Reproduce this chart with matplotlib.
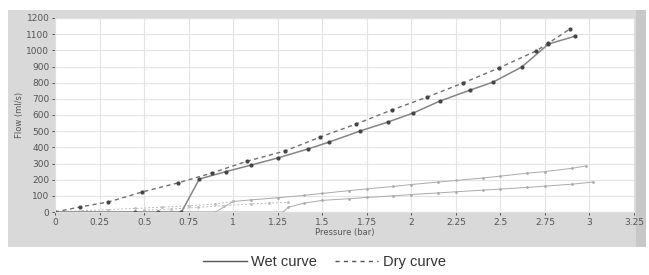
import numpy as np
import matplotlib.pyplot as plt
from matplotlib.lines import Line2D
from matplotlib.patches import Rectangle

# main pair of curves
wet_p = [0, 0.45, 0.58, 0.71, 0.81, 0.96, 1.10, 1.25, 1.42, 1.54, 1.71, 1.87, 2.01, 2.16, 2.33, 2.46, 2.62, 2.77, 2.92]
wet_q = [0, 0, 0, 0, 204, 250, 290, 334, 390, 433, 500, 557, 612, 686, 754, 804, 897, 1039, 1088]
dry_p = [0, 0.14, 0.30, 0.49, 0.69, 0.88, 1.08, 1.29, 1.49, 1.69, 1.89, 2.09, 2.29, 2.49, 2.70, 2.77, 2.89]
dry_q = [0, 31, 62, 124, 180, 241, 315, 377, 464, 544, 631, 711, 798, 890, 996, 1045, 1132]

# fainter second and third samples
wet2_p = [0, 0.9, 1.0, 1.1, 1.25, 1.4, 1.5, 1.65, 1.75, 1.9, 2.0, 2.15, 2.25, 2.4, 2.5, 2.65, 2.75, 2.9, 2.98]
wet2_q = [0, 0, 65, 75, 88, 103, 115, 132, 143, 158, 170, 185, 195, 210, 222, 240, 250, 270, 285]
dry2_p = [0, 0.15, 0.3, 0.45, 0.6, 0.75, 0.9, 1.0]
dry2_q = [0, 8, 15, 22, 30, 38, 50, 65]
wet3_p = [0, 1.28, 1.31, 1.4, 1.5, 1.65, 1.75, 1.9, 2.0, 2.15, 2.25, 2.4, 2.5, 2.65, 2.75, 2.9, 3.02]
wet3_q = [0, 0, 30, 55, 72, 82, 90, 100, 108, 118, 125, 135, 142, 152, 160, 172, 185]
dry3_p = [0.5, 0.65, 0.8, 0.95, 1.1, 1.2, 1.31]
dry3_q = [12, 18, 28, 40, 50, 55, 60]

xticks = [0, 0.25, 0.5, 0.75, 1, 1.25, 1.5, 1.75, 2, 2.25, 2.5, 2.75, 3, 3.25]
xlabels = ['0', '0.25', '0.5', '0.75', '1', '1.25', '1.5', '1.75', '2', '2.25', '2.5', '2.75', '3', '3.25']
yticks = list(range(0, 1201, 100))

fig = plt.figure(figsize=(6.49, 2.75), dpi=100)
fig.patches.append(Rectangle((8/649, 1-247/275), 638/649, 237/275, transform=fig.transFigure,
                             facecolor='#d9d9d9', edgecolor='none', zorder=-10))
fig.patches.append(Rectangle((636/649, 1-247/275), 10/649, 237/275, transform=fig.transFigure,
                             facecolor='#c8c8c8', edgecolor='none', zorder=-9))

ax = fig.add_axes([55/649, 1-212/275, 579/649, 194/275])
ax.set_facecolor('white')

light = '#ababab'
ax.plot(wet2_p, wet2_q, '-', color=light, lw=0.7, marker='.', ms=2)
ax.plot(dry2_p, dry2_q, '--', color='#bbbbbb', lw=0.7, marker='.', ms=2, dashes=(2, 2))
ax.plot(wet3_p, wet3_q, '-', color=light, lw=0.7, marker='.', ms=2)
ax.plot(dry3_p, dry3_q, '--', color='#bbbbbb', lw=0.7, marker='.', ms=2, dashes=(2, 2))

ax.plot(wet_p, wet_q, '-', color='#858585', lw=1.1, marker='o', ms=2, mfc='#444444', mec='#444444')
ax.plot(dry_p, dry_q, '--', color='#707070', lw=1.0, marker='o', ms=2, mfc='#444444', mec='#444444',
        dashes=(3, 2.5))

ax.set_xlim(0, 3.25)
ax.set_ylim(0, 1200)
ax.set_xticks(xticks)
ax.set_xticklabels(xlabels)
ax.set_yticks(yticks)
ax.tick_params(labelsize=6.5, colors='#555555', length=2.5, width=0.7, pad=1.5)
ax.grid(color='#e4e4e4', lw=0.8)
ax.set_axisbelow(True)
for s in ax.spines.values():
    s.set_color('#e0e0e0')
    s.set_linewidth(0.8)
ax.set_xlabel('Pressure (bar)', fontsize=6, color='#555555', labelpad=1)
ax.set_ylabel('Flow (ml/s)', fontsize=6, color='#555555', labelpad=2)

handles = [Line2D([], [], color='#555555', lw=1.0),
           Line2D([], [], color='#555555', lw=1.0, ls=(0, (3, 3)))]
fig.legend(handles, ['Wet curve', 'Dry curve'], loc='center', bbox_to_anchor=(0.5, 1-262/275),
           ncol=2, frameon=False, handlelength=3, handletextpad=0.3,
           columnspacing=1.2, labelcolor='#333333',
           prop={'family': 'Liberation Sans', 'size': 10.5})

fig.savefig('out.png', dpi=100)
